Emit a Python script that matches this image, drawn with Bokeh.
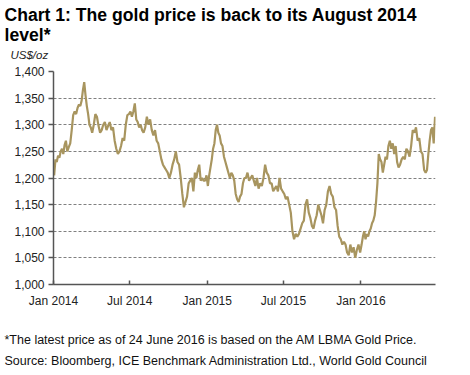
import pandas as pd
from bokeh.plotting import figure
from bokeh.models import Title, FixedTicker, NumeralTickFormatter, DatetimeTickFormatter, Range1d
from bokeh.embed import file_html
from bokeh.resources import INLINE

# Gold price, US$/oz, roughly twice-weekly readings, one list per month
price_2014 = [
    [1205, 1235, 1230, 1242, 1238, 1250, 1255, 1245, 1262, 1270],
    [1250, 1258, 1265, 1290, 1318, 1325, 1320, 1332],
    [1338, 1335, 1345, 1365, 1380, 1355, 1335, 1320, 1300, 1295],
    [1285, 1300, 1320, 1315, 1298, 1285, 1290, 1300],
    [1305, 1290, 1298, 1305, 1290, 1295, 1270, 1255],
    [1245, 1250, 1260, 1275, 1270, 1300, 1318, 1320],
    [1325, 1315, 1325, 1340, 1310, 1305, 1295, 1300, 1290],
    [1285, 1295, 1315, 1300, 1310, 1290, 1280, 1290],
    [1270, 1265, 1250, 1235, 1225, 1220, 1215, 1210],
    [1200, 1210, 1225, 1235, 1250, 1230, 1225, 1200],
    [1170, 1145, 1155, 1165, 1190, 1195, 1200, 1175],
    [1210, 1200, 1215, 1225, 1195, 1200, 1195, 1195, 1205],
]
price_2015 = [
    [1185, 1205, 1220, 1235, 1255, 1265, 1290, 1300, 1285, 1280],
    [1265, 1260, 1240, 1230, 1220, 1210, 1200, 1210],
    [1205, 1195, 1170, 1160, 1155, 1165, 1170, 1190, 1200],
    [1200, 1210, 1195, 1200, 1205, 1195, 1185, 1200],
    [1180, 1190, 1185, 1200, 1225, 1210, 1205, 1190],
    [1190, 1175, 1180, 1185, 1175, 1200, 1180, 1175],
    [1170, 1160, 1165, 1150, 1135, 1100, 1085, 1095],
    [1090, 1095, 1105, 1115, 1120, 1150, 1160, 1135],
    [1125, 1110, 1105, 1120, 1130, 1150, 1140, 1130],
    [1115, 1140, 1150, 1175, 1185, 1170, 1165, 1145],
    [1140, 1110, 1090, 1085, 1075, 1080, 1075, 1060],
    [1055, 1075, 1060, 1070, 1050, 1065, 1075, 1060],
]
price_2016 = [
    [1075, 1090, 1100, 1085, 1095, 1090, 1100, 1105, 1115, 1120],
    [1130, 1155, 1190, 1245, 1235, 1230, 1210, 1225, 1240],
    [1235, 1260, 1270, 1255, 1265, 1245, 1260, 1230, 1220],
    [1225, 1235, 1240, 1235, 1255, 1250, 1240, 1260],
    [1290, 1285, 1295, 1270, 1275, 1250, 1245, 1215],
    [1210, 1215, 1245, 1270, 1290, 1295, 1265, 1315],
]
last_day = "2016-06-24"

tick_dates = ["2014-01-01", "2014-07-01", "2015-01-01", "2015-07-01", "2016-01-01"]
tick_labels = ["Jan 2014", "Jul 2014", "Jan 2015", "Jul 2015", "Jan 2016"]
y_ticks = [1000, 1050, 1100, 1150, 1200, 1250, 1300, 1350, 1400]

title_lines = ["Chart 1: The gold price is back to its August 2014", "level*"]
unit_label = "US$/oz"
footnote = "*The latest price as of 24 June 2016 is based on the AM LBMA Gold Price."
source = "Source: Bloomberg, ICE Benchmark Administration Ltd., World Gold Council"

# Build the series: readings spread evenly through each month
dates, values = [], []
end = pd.Timestamp(last_day)
for year, months in ((2014, price_2014), (2015, price_2015), (2016, price_2016)):
    for mi, vals in enumerate(months):
        start = pd.Timestamp(year=year, month=mi + 1, day=1)
        span = start.days_in_month
        if start.year == end.year and start.month == end.month:
            span = end.day + 1.5
        n = len(vals)
        for i, v in enumerate(vals):
            dates.append(start + pd.Timedelta(days=(i + 0.5) * span / n))
            values.append(v)

FONT = "Liberation Sans"
GOLD = "#A8955F"

p = figure(width=470, height=375, x_axis_type="datetime",
           x_range=Range1d(pd.Timestamp("2014-01-01"), pd.Timestamp("2016-06-26")),
           y_range=Range1d(1000, 1400),
           output_backend="svg", toolbar_location=None,
           min_border_left=53, min_border_right=35, min_border_top=0, min_border_bottom=91)
p.outline_line_color = None
p.background_fill_color = "white"
p.border_fill_color = "white"

p.line(dates, values, line_color=GOLD, line_width=2.2)

tick_ms = [int(pd.Timestamp(d).value // 10**6) for d in tick_dates]
p.xaxis.ticker = FixedTicker(ticks=tick_ms)
p.xaxis.formatter = DatetimeTickFormatter(days="%b %Y", months="%b %Y", years="%b %Y")
p.xaxis.major_label_overrides = {t: lab for t, lab in zip(tick_ms, tick_labels)}
p.yaxis.ticker = FixedTicker(ticks=y_ticks)
p.yaxis.formatter = NumeralTickFormatter(format="0,0")

for ax in (p.xaxis, p.yaxis):
    ax.axis_line_color = "#555555"
    ax.axis_line_width = 1.5
    ax.major_tick_line_color = "#555555"
    ax.major_tick_line_width = 1.5
    ax.minor_tick_line_color = None
    ax.major_label_text_font = FONT
    ax.major_label_text_font_size = "12px"
    ax.major_label_text_color = "#222222"
p.xaxis.major_tick_in = 4
p.xaxis.major_tick_out = 0
p.xaxis.major_label_standoff = 9
# blank axis label used only as a spacer between the tick labels and the notes
p.xaxis.axis_label = " "
p.xaxis.axis_label_text_font_size = "1px"
p.xaxis.axis_label_standoff = 12
p.yaxis.major_tick_in = 0
p.yaxis.major_tick_out = 5
p.yaxis.major_label_standoff = 4

p.xgrid.grid_line_color = None
p.ygrid.grid_line_color = "#808080"
p.ygrid.grid_line_dash = "3 2"
p.ygrid.grid_line_width = 1

def make_title(txt, size, style="normal", color="#000000", offset=-49, standoff=0, valign="bottom"):
    return Title(text=txt, align="left", offset=offset, standoff=standoff,
                 vertical_align=valign,
                 text_font=FONT, text_font_size=size, text_font_style=style,
                 text_color=color)

# above: first added sits closest to the frame
p.add_layout(make_title(unit_label, "11.5px", "italic", "#222222", offset=-43,
                        standoff=18.4, valign="top"), "above")
p.add_layout(make_title(title_lines[1], "17.6px", "bold", standoff=-10), "above")
p.add_layout(make_title(title_lines[0], "17.6px", "bold", standoff=5), "above")
# below: after the x axis
p.add_layout(make_title(footnote, "12.5px", color="#111111", standoff=9), "below")
p.add_layout(make_title(source, "12.5px", color="#111111", standoff=0), "below")

open("out.html", "w").write(file_html(p, INLINE))
